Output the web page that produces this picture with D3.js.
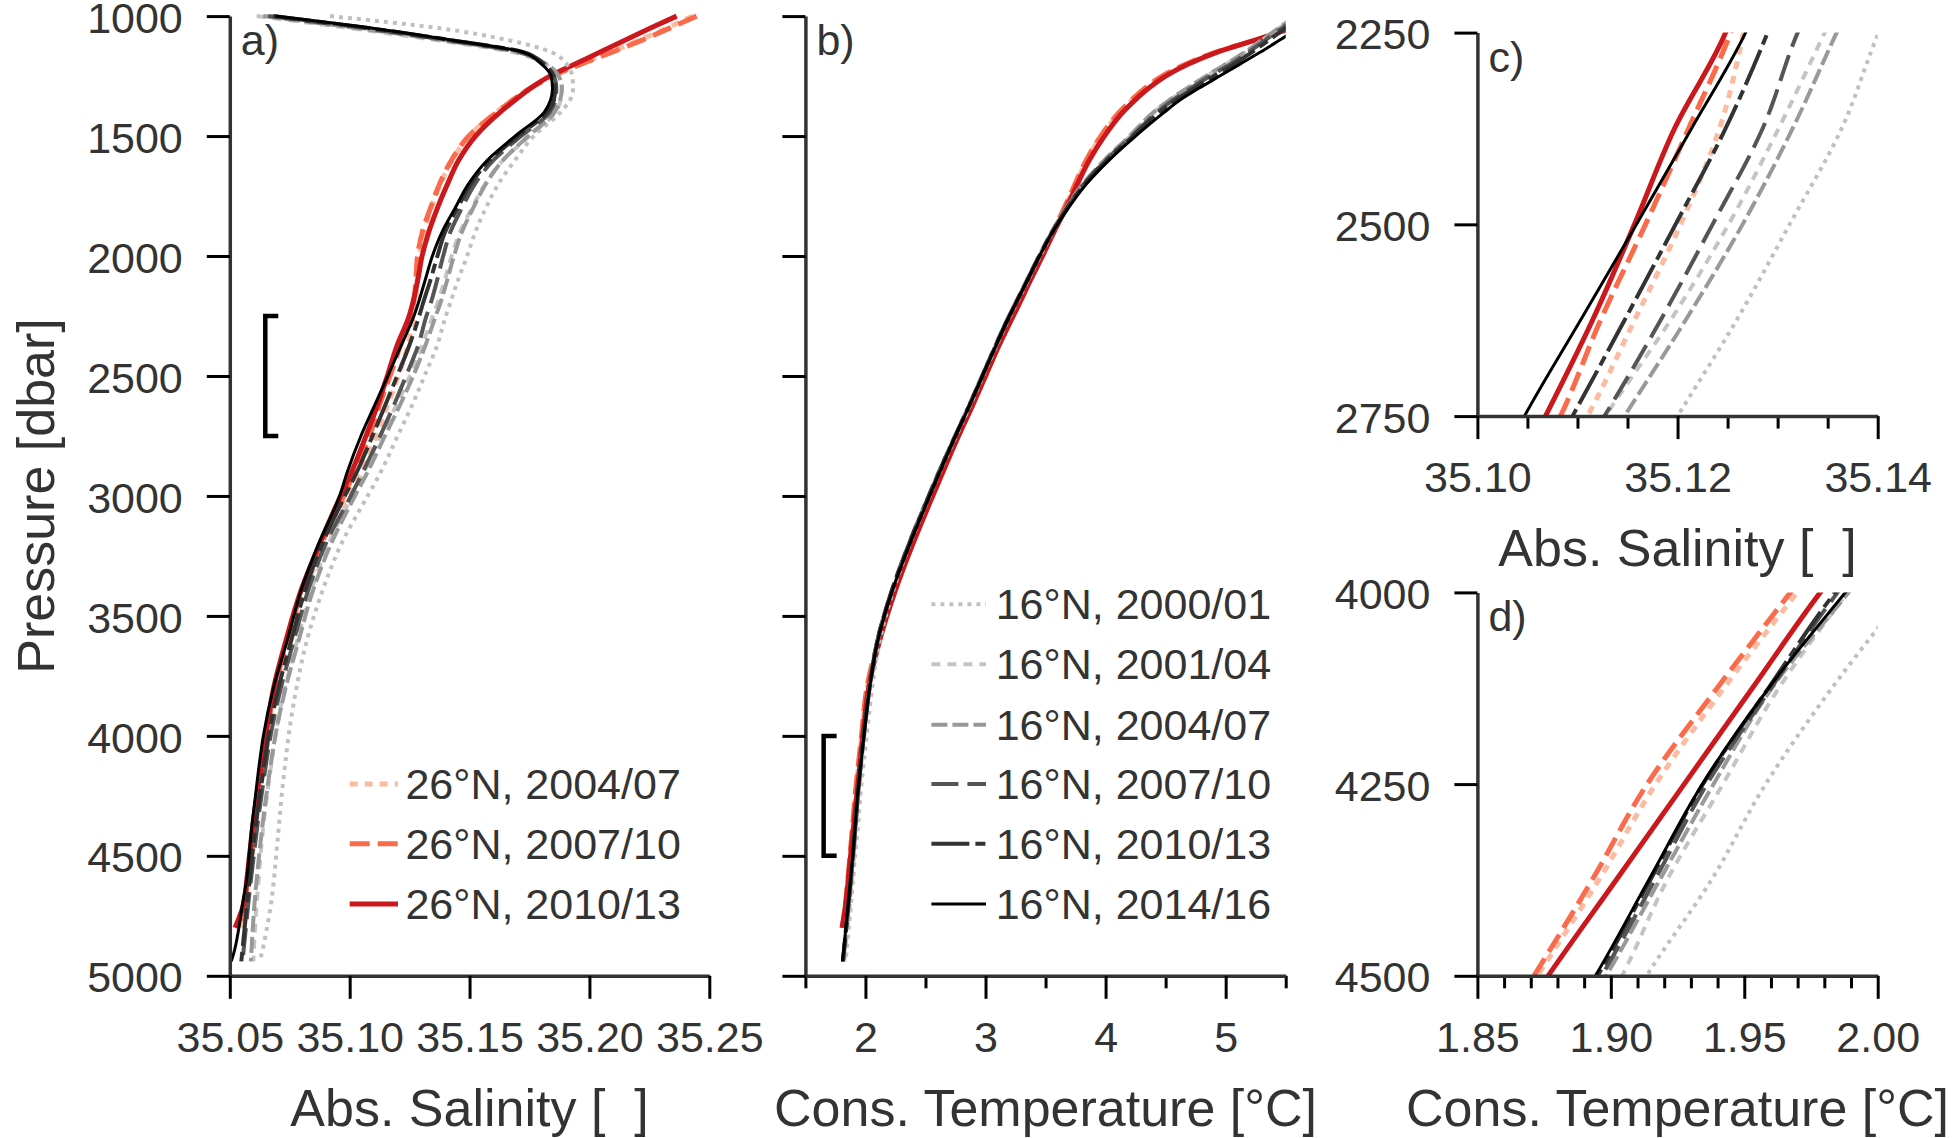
<!DOCTYPE html>
<html><head><meta charset="utf-8">
<script src="https://cdn.jsdelivr.net/npm/d3@7"></script>
<style>
body{margin:0;background:#fff;}
svg text{font-family:"Liberation Sans", Arial, Helvetica, sans-serif; fill:#333;}
</style></head><body>
<svg id="chart" width="1956" height="1138"></svg>
<script>
// ---------------- DATA ----------------
const pressure = [1000,1050,1100,1150,1200,1250,1300,1350,1400,1500,1600,1700,1800,1900,2000,2100,2200,2250,2375,2500,2625,2750,2900,3000,3200,3400,3600,3800,4000,4125,4250,4375,4500,4600,4700,4800,4900,4940];

// Absolute salinity
const sa26_0407 = [35.2430,35.2322,35.2210,35.2088,35.1960,35.1842,35.1752,35.1678,35.1612,35.1498,35.1428,35.1378,35.1340,35.1310,35.1292,35.1282,35.1274,35.1266,35.1242,35.1203,35.1157,35.1110,35.1040,35.0990,35.0895,35.0812,35.0752,35.0700,35.0662,35.0642,35.0624,35.0608,35.0594,35.0582,35.0570,35.0550,null,null];
const sa26_0710 = [35.2447,35.2335,35.2220,35.2095,35.1965,35.1845,35.1755,35.1680,35.1615,35.1497,35.1425,35.1375,35.1337,35.1303,35.1283,35.1276,35.1266,35.1253,35.1211,35.1168,35.1123,35.1083,35.1020,35.0975,35.0882,35.0800,35.0740,35.0688,35.0652,35.0632,35.0614,35.0598,35.0585,35.0574,35.0562,35.0540,null,null];
const sa26_1013 = [35.2364,35.2255,35.2150,35.2045,35.1940,35.1835,35.1755,35.1690,35.1628,35.1525,35.1455,35.1408,35.1366,35.1330,35.1302,35.1284,35.1262,35.1248,35.1197,35.1157,35.1115,35.1068,35.1008,35.0962,35.0875,35.0795,35.0735,35.0683,35.0650,35.0631,35.0613,35.0596,35.0582,35.0571,35.0558,35.0522,null,null];
const sa16_0001 = [35.0918,35.1370,35.1660,35.1840,35.1905,35.1928,35.1932,35.1919,35.1880,35.1768,35.1690,35.1620,35.1568,35.1524,35.1490,35.1452,35.1418,35.1401,35.1364,35.1312,35.1259,35.1200,35.1130,35.1075,35.0965,35.0885,35.0822,35.0778,35.0745,35.0730,35.0716,35.0705,35.0693,35.0684,35.0672,35.0655,35.0635,35.0625];
const sa16_0104 = [35.0612,35.1000,35.1360,35.1680,35.1815,35.1870,35.1885,35.1880,35.1858,35.1750,35.1640,35.1565,35.1510,35.1460,35.1425,35.1397,35.1365,35.1347,35.1301,35.1251,35.1193,35.1128,35.1060,35.1010,35.0912,35.0838,35.0782,35.0730,35.0690,35.0672,35.0655,35.0640,35.0628,35.0620,35.0612,35.0605,35.0600,35.0598];
const sa16_0407 = [35.0640,35.1030,35.1390,35.1700,35.1820,35.1872,35.1885,35.1878,35.1855,35.1745,35.1640,35.1568,35.1515,35.1468,35.1435,35.1407,35.1377,35.1359,35.1315,35.1265,35.1208,35.1147,35.1075,35.1022,35.0922,35.0845,35.0788,35.0733,35.0690,35.0670,35.0652,35.0636,35.0622,35.0612,35.0603,35.0596,35.0590,35.0588];
const sa16_0710 = [35.0660,35.1060,35.1400,35.1710,35.1805,35.1852,35.1862,35.1858,35.1835,35.1715,35.1600,35.1522,35.1468,35.1420,35.1390,35.1365,35.1337,35.1320,35.1285,35.1235,35.1183,35.1127,35.1055,35.1005,35.0900,35.0825,35.0768,35.0713,35.0670,35.0650,35.0632,35.0615,35.0600,35.0588,35.0577,35.0567,35.0557,35.0553];
const sa16_1013 = [35.0680,35.1080,35.1420,35.1725,35.1810,35.1850,35.1857,35.1852,35.1825,35.1702,35.1585,35.1505,35.1450,35.1398,35.1366,35.1337,35.1305,35.1290,35.1248,35.1198,35.1147,35.1095,35.1030,35.0980,35.0885,35.0812,35.0757,35.0703,35.0662,35.0643,35.0625,35.0608,35.0593,35.0583,35.0572,35.0562,35.0552,35.0548];
const sa16_1416 = [35.0690,35.1090,35.1425,35.1722,35.1800,35.1840,35.1846,35.1838,35.1812,35.1690,35.1575,35.1495,35.1440,35.1385,35.1345,35.1315,35.1285,35.1268,35.1214,35.1159,35.1103,35.1047,35.0990,35.0958,35.0870,35.0795,35.0740,35.0682,35.0640,35.0622,35.0607,35.0592,35.0580,35.0570,35.0553,35.0538,35.0518,35.0506];

// Conservative temperature
const ct26_0407 = [5.85,5.555,5.25,4.925,4.675,4.475,4.335,4.22,4.12,3.965,3.845,3.75,3.66,3.563,3.472,3.374,3.279,3.229,3.109,2.999,2.889,2.774,2.644,2.559,2.392,2.24,2.113,2.015,1.9698,1.9423,1.9168,1.8955,1.8725,1.854,1.835,1.812,null,null];
const ct26_0710 = [5.86,5.56,5.25,4.92,4.67,4.47,4.33,4.215,4.115,3.96,3.84,3.745,3.655,3.56,3.47,3.372,3.277,3.227,3.107,2.997,2.887,2.772,2.642,2.557,2.39,2.238,2.11,2.012,1.9673,1.9398,1.9136,1.8930,1.8712,1.853,1.834,1.81,null,null];
const ct26_1013 = [5.84,5.55,5.245,4.93,4.69,4.50,4.36,4.245,4.145,3.99,3.865,3.765,3.67,3.57,3.475,3.375,3.28,3.23,3.11,3.00,2.89,2.775,2.645,2.56,2.395,2.245,2.12,2.027,1.9785,1.9530,1.9275,1.9020,1.8765,1.857,1.836,1.805,null,null];
const ct16_0001 = [5.60,5.45,5.31,5.17,5.01,4.845,4.69,4.54,4.41,4.21,4.00,3.82,3.68,3.56,3.455,3.355,3.255,3.205,3.09,2.98,2.87,2.755,2.62,2.535,2.37,2.228,2.12,2.056,2.0106,1.9828,1.9580,1.9377,1.9134,1.897,1.880,1.862,1.843,1.836];
const ct16_0104 = [5.59,5.445,5.305,5.165,5.005,4.84,4.685,4.535,4.405,4.205,3.995,3.815,3.675,3.555,3.45,3.35,3.25,3.2,3.085,2.975,2.865,2.75,2.615,2.53,2.365,2.22,2.103,2.036,1.9888,1.9629,1.9420,1.9211,1.9042,1.888,1.869,1.85,1.831,1.824];
const ct16_0407 = [5.58,5.44,5.30,5.16,5.00,4.835,4.68,4.53,4.40,4.20,3.99,3.81,3.67,3.55,3.445,3.345,3.245,3.195,3.08,2.97,2.86,2.745,2.61,2.525,2.36,2.215,2.10,2.035,1.9891,1.9603,1.9385,1.9183,1.8982,1.880,1.861,1.842,1.823,1.815];
const ct16_0710 = [5.62,5.47,5.33,5.19,5.04,4.87,4.71,4.56,4.43,4.22,4.005,3.82,3.677,3.555,3.448,3.348,3.248,3.198,3.083,2.973,2.863,2.748,2.613,2.528,2.362,2.216,2.101,2.034,1.985,1.960,1.936,1.9165,1.8965,1.878,1.859,1.840,1.821,1.813];
const ct16_1013 = [5.65,5.50,5.36,5.22,5.07,4.90,4.74,4.585,4.45,4.23,4.01,3.825,3.68,3.557,3.449,3.349,3.249,3.199,3.084,2.974,2.864,2.749,2.615,2.53,2.365,2.218,2.102,2.034,1.984,1.959,1.9345,1.9148,1.8950,1.877,1.858,1.839,1.820,1.812];
const ct16_1416 = [5.78,5.61,5.45,5.29,5.12,4.95,4.78,4.62,4.49,4.25,4.03,3.84,3.69,3.56,3.45,3.35,3.25,3.20,3.085,2.975,2.865,2.75,2.62,2.535,2.37,2.22,2.105,2.035,1.9879,1.9591,1.9343,1.9142,1.8942,1.876,1.857,1.837,1.817,1.808];

const labels26 = ["26°N, 2004/07","26°N, 2007/10","26°N, 2010/13"];
const labels16 = ["16°N, 2000/01","16°N, 2001/04","16°N, 2004/07","16°N, 2007/10","16°N, 2010/13","16°N, 2014/16"];

// ticks
const presTicksAB = [1000,1500,2000,2500,3000,3500,4000,4500,5000];
const saTicksA = [35.05,35.10,35.15,35.20,35.25];
const ctTicksB = [2,3,4,5];
const ctMinorB = [1.5,2.5,3.5,4.5,5.5];
const presTicksC = [2250,2500,2750];
const saTicksC = [35.10,35.12,35.14];
const saMinorC = [35.105,35.11,35.115,35.125,35.13,35.135];
const presTicksD = [4000,4250,4500];
const ctTicksD = [1.85,1.90,1.95,2.00];
const ctMinorD = [1.86,1.87,1.88,1.89,1.91,1.92,1.93,1.94,1.96,1.97,1.98,1.99];

// zoom-range brackets (data units)
const bracketA = {x:35.0648, p0:2250, p1:2750};
const bracketB = {x:1.652, p0:4000, p1:4500};

// ---------------- STYLES ----------------
const styles = [
  {color:"#fcbba1", w:5,   dash:"8,7"},
  {color:"#fb6a4a", w:5,   dash:"20,8"},
  {color:"#cb181d", w:5,   dash:null},
  {color:"#c0c0c0", w:4,   dash:"4,5"},
  {color:"#c4c4c4", w:4,   dash:"9,7"},
  {color:"#999999", w:4,   dash:"16,5"},
  {color:"#555555", w:4,   dash:"27,9"},
  {color:"#333333", w:4,   dash:"38,6,10,6"},
  {color:"#000000", w:3,   dash:null}
];

const seriesList = [
  {label:labels26[0], sa:sa26_0407, ct:ct26_0407},
  {label:labels26[1], sa:sa26_0710, ct:ct26_0710},
  {label:labels26[2], sa:sa26_1013, ct:ct26_1013},
  {label:labels16[0], sa:sa16_0001, ct:ct16_0001},
  {label:labels16[1], sa:sa16_0104, ct:ct16_0104},
  {label:labels16[2], sa:sa16_0407, ct:ct16_0407},
  {label:labels16[3], sa:sa16_0710, ct:ct16_0710},
  {label:labels16[4], sa:sa16_1013, ct:ct16_1013},
  {label:labels16[5], sa:sa16_1416, ct:ct16_1416}
].map((s,i)=>Object.assign(s,{style:styles[i]}));
const drawOrder = [0,1,2,3,4,5,6,7,8];

// ---------------- LAYOUT ----------------
const panels = [
  {id:"a", x0:229.8, x1:709.3, y0:16.1, y1:975.8, xd:[35.05,35.25], yd:[1000,5000], v:"sa",
   yt:presTicksAB, ylab:true, xt:saTicksA, xmin:[], xfmt:d3.format(".2f"), title:"Abs. Salinity [\u00a0\u00a0]"},
  {id:"b", x0:805.4, x1:1285.7, y0:16.1, y1:975.8, xd:[1.5,5.5], yd:[1000,5000], v:"ct",
   yt:presTicksAB, ylab:false, xt:ctTicksB, xmin:ctMinorB, xfmt:d3.format("d"), title:"Cons. Temperature [°C]"},
  {id:"c", x0:1477.4, x1:1877.7, y0:32.6, y1:416.1, xd:[35.10,35.14], yd:[2250,2750], v:"sa",
   yt:presTicksC, ylab:true, xt:saTicksC, xmin:saMinorC, xfmt:d3.format(".2f"), title:"Abs. Salinity [\u00a0\u00a0]"},
  {id:"d", x0:1477.4, x1:1877.7, y0:592.4, y1:975.8, xd:[1.85,2.00], yd:[4000,4500], v:"ct",
   yt:presTicksD, ylab:true, xt:ctTicksD, xmin:ctMinorD, xfmt:d3.format(".2f"), title:"Cons. Temperature [°C]"}
];

const svg = d3.select("#chart");
const defs = svg.append("defs");
const TICK = 23, MINOR = 12.5, FS_TICK = 43, FS_TITLE = 52;

panels.forEach(P => {
  const xs = d3.scaleLinear().domain(P.xd).range([P.x0, P.x1]);
  const ys = d3.scaleLinear().domain(P.yd).range([P.y0, P.y1]);
  P.xs = xs; P.ys = ys;
  const g = svg.append("g");

  defs.append("clipPath").attr("id","clip"+P.id).append("rect")
    .attr("x", P.x0).attr("y", P.y0 - (P.id==="a"?4:0))
    .attr("width", P.x1 - P.x0).attr("height", P.y1 - P.y0 + (P.id==="a"?4:0));

  const lineGen = d3.line()
    .defined((d)=> d.v !== null)
    .x(d => xs(d.v)).y(d => ys(d.p))
    .curve(d3.curveMonotoneY);

  const lg = g.append("g").attr("clip-path","url(#clip"+P.id+")");
  drawOrder.forEach(k => {
    const s = seriesList[k];
    const data = pressure.map((p,i)=>({p:p, v:s[P.v][i]}));
    lg.append("path").datum(data)
      .attr("d", lineGen)
      .attr("fill","none")
      .attr("stroke", s.style.color)
      .attr("stroke-width", s.style.w)
      .attr("stroke-dasharray", s.style.dash)
      .attr("stroke-linecap","butt")
      .attr("stroke-linejoin","round");
  });

  // y axis
  const yAxis = d3.axisLeft(ys).tickValues(P.yt).tickSize(TICK).tickSizeOuter(0).tickPadding(24)
      .tickFormat(P.ylab ? d3.format("d") : ()=>"");
  const ya = g.append("g").attr("transform",`translate(${P.x0},0)`).call(yAxis);
  ya.selectAll(".tick text").attr("dy","0.375em");
  // x axis minor
  if (P.xmin.length){
    g.append("g").attr("transform",`translate(0,${P.y1})`)
      .call(d3.axisBottom(xs).tickValues(P.xmin).tickSize(MINOR).tickSizeOuter(0).tickFormat(()=>""))
      .call(a=>a.select(".domain").remove())
      .selectAll("line").attr("stroke","#000").attr("stroke-width",3);
  }
  const xAxis = d3.axisBottom(xs).tickValues(P.xt).tickSize(TICK).tickSizeOuter(0).tickPadding(22.5).tickFormat(P.xfmt);
  const xa = g.append("g").attr("transform",`translate(0,${P.y1})`).call(xAxis);

  [ya, xa].forEach(a => {
    a.select(".domain").attr("stroke","#333").attr("stroke-width",3.5);
    a.selectAll(".tick line").attr("stroke","#000").attr("stroke-width",3);
    a.selectAll(".tick text").attr("fill","#333").style("font-size",FS_TICK+"px")
      .style("font-family",'"Liberation Sans", Arial, sans-serif');
  });

  // panel letter
  g.append("text").attr("x", P.x0 + 11).attr("y", P.y0 + 39)
    .style("font-size","43px").text(P.id + ")");

  // x title
  g.append("text").attr("x", (P.x0+P.x1)/2).attr("y", P.y1 + 150)
    .attr("text-anchor","middle").style("font-size",FS_TITLE+"px").text(P.title);
});

// y title
svg.append("text").attr("transform","translate(54,496) rotate(-90)")
  .attr("text-anchor","middle").style("font-size",FS_TITLE+"px").text("Pressure [dbar]");

// brackets
function drawBracket(P, B){
  const x = P.xs(B.x), ya = P.ys(B.p0), yb = P.ys(B.p1);
  svg.append("path")
    .attr("d", `M${x+13},${ya}H${x}V${yb}H${x+13}`)
    .attr("fill","none").attr("stroke","#000").attr("stroke-width",4.5);
}
drawBracket(panels[0], bracketA);
drawBracket(panels[1], bracketB);

// legends
function drawLegend(xLine0, xLine1, xText, yRows, items){
  items.forEach((s,i)=>{
    const y = yRows[i];
    svg.append("line").attr("x1",xLine0).attr("x2",xLine1).attr("y1",y).attr("y2",y)
      .attr("stroke", s.style.color).attr("stroke-width", s.style.w)
      .attr("stroke-dasharray", s.style.dash);
    svg.append("text").attr("x", xText).attr("y", y + 15)
      .style("font-size","43px").text(s.label);
  });
}
const rowY = [604.2, 664.3, 724.8, 784.1, 843.8, 903.9];
drawLegend(349.7, 398, 405.4, rowY.slice(3), seriesList.slice(0,3));
drawLegend(931.4, 986, 995.7, rowY, seriesList.slice(3));
</script>
</body></html>
